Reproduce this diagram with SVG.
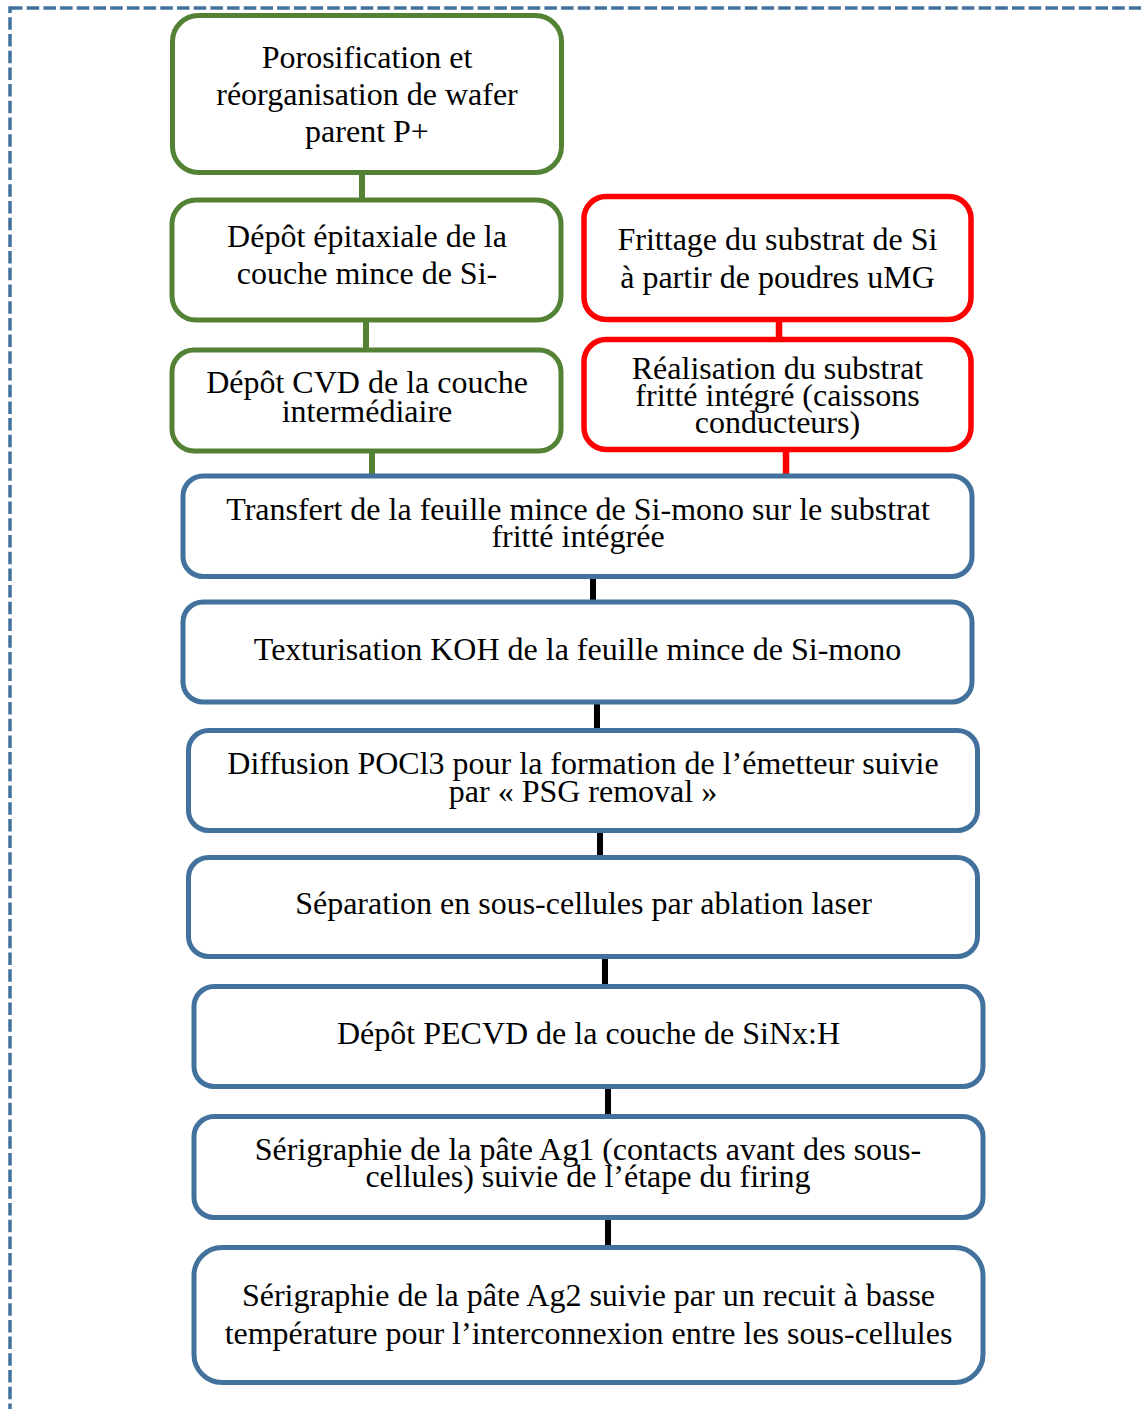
<svg xmlns="http://www.w3.org/2000/svg" width="1141" height="1409" viewBox="0 0 1141 1409">
<style>
.frame{fill:none;stroke:#41719C;stroke-width:3.5;stroke-dasharray:12.5 4.2}
.g{fill:#fff;stroke:#548235;stroke-width:5}
.r{fill:#fff;stroke:#FF0000;stroke-width:5.5}
.b{fill:#fff;stroke:#41719C;stroke-width:5}
.cg{stroke:#548235;stroke-width:6}
.cr{stroke:#FF0000;stroke-width:6.5}
.ck{stroke:#000;stroke-width:6}
.t text{font-size:32px;fill:#000;text-anchor:middle}
</style>
<rect width="1141" height="1409" fill="#fff"/>
<rect class="frame" x="10" y="8" width="1300" height="1600"/>
<g id="connectors">
<line class="cg" x1="362" y1="172" x2="362" y2="201"/>
<line class="cg" x1="366" y1="319" x2="366" y2="351"/>
<line class="cg" x1="372" y1="450" x2="372" y2="477"/>
<line class="cr" x1="779" y1="319" x2="779" y2="341"/>
<line class="cr" x1="786" y1="448" x2="786" y2="477"/>
<line class="ck" x1="593" y1="576" x2="593" y2="603"/>
<line class="ck" x1="597" y1="701" x2="597" y2="731"/>
<line class="ck" x1="600" y1="829" x2="600" y2="859"/>
<line class="ck" x1="605" y1="956" x2="605" y2="987"/>
<line class="ck" x1="608" y1="1085" x2="608" y2="1118"/>
<line class="ck" x1="608" y1="1216" x2="608" y2="1249"/>
</g>
<g class="t" font-family="'Liberation Serif', Tinos, 'Times New Roman', Times, 'DejaVu Serif', serif">
<g id="n1"><rect class="g" x="172.5" y="15.5" width="389" height="157" rx="26"/>
<text x="367" y="68">Porosification et</text><text x="367" y="105">réorganisation de wafer</text><text x="367" y="142">parent P+</text></g>
<g id="n2"><rect class="g" x="172" y="200" width="389" height="120" rx="24"/>
<text x="367" y="247">Dépôt épitaxiale de la</text><text x="367" y="284">couche mince de Si-</text></g>
<g id="n3"><rect class="g" x="172" y="350" width="389" height="101" rx="22"/>
<text x="367" y="393">Dépôt CVD de la couche</text><text x="367" y="421.5">intermédiaire</text></g>
<g id="n4"><rect class="r" x="584" y="196.5" width="387" height="123" rx="22"/>
<text x="777.5" y="250">Frittage du substrat de Si</text><text x="777.5" y="288">à partir de poudres uMG</text></g>
<g id="n5"><rect class="r" x="584" y="339.5" width="387" height="110" rx="22"/>
<text x="777.5" y="378.5">Réalisation du substrat</text><text x="777.5" y="406">fritté intégré (caissons</text><text x="777.5" y="433">conducteurs)</text></g>
<g id="n6"><rect class="b" x="183" y="476" width="789" height="100.5" rx="20"/>
<text x="578" y="520">Transfert de la feuille mince de Si-mono sur le substrat</text><text x="578" y="546.5">fritté intégrée</text></g>
<g id="n7"><rect class="b" x="183" y="602" width="789" height="100" rx="20"/>
<text x="577.5" y="660">Texturisation KOH de la feuille mince de Si-mono</text></g>
<g id="n8"><rect class="b" x="188.5" y="730.5" width="789" height="100" rx="20"/>
<text x="583" y="773.5">Diffusion POCl3 pour la formation de l’émetteur suivie</text><text x="583" y="802">par « PSG removal »</text></g>
<g id="n9"><rect class="b" x="188.5" y="857.5" width="789" height="99" rx="20"/>
<text x="583.5" y="913.5">Séparation en sous-cellules par ablation laser</text></g>
<g id="n10"><rect class="b" x="194" y="986.5" width="789" height="100" rx="20"/>
<text x="588.5" y="1043.5">Dépôt PECVD de la couche de SiNx:H</text></g>
<g id="n11"><rect class="b" x="194" y="1116.5" width="789" height="101" rx="20"/>
<text x="588" y="1159.5">Sérigraphie de la pâte Ag1 (contacts avant des sous-</text><text x="588" y="1187">cellules) suivie de l’étape du firing</text></g>
<g id="n12"><rect class="b" x="194" y="1247.5" width="789" height="135" rx="28"/>
<text x="588.5" y="1306">Sérigraphie de la pâte Ag2 suivie par un recuit à basse</text><text x="588.5" y="1343.5">température pour l’interconnexion entre les sous-cellules</text></g>
</g>
</svg>
